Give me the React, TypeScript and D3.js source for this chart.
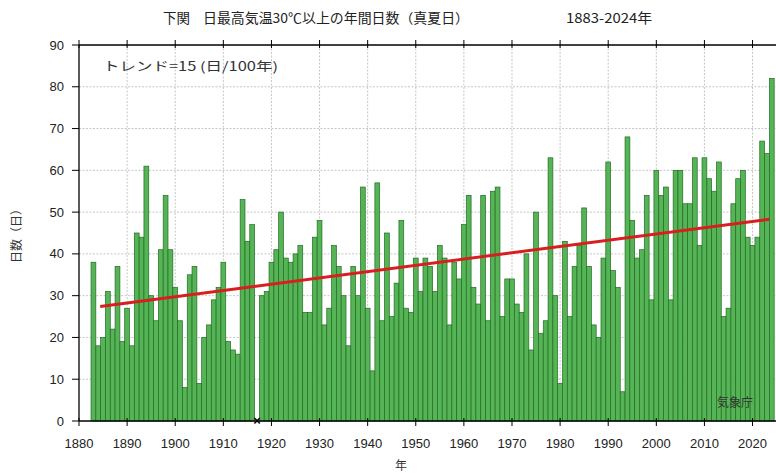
import React from "react";
import * as d3 from "d3";

const firstYear = 1883;
const lastYear = 2024;
const years: number[] = d3.range(firstYear, lastYear + 1);

const days: (number | null)[] = [
  38, 18, 20, 31, 22, 37, 19,
  27, 18, 45, 44, 61, 30, 24, 41, 54, 41,
  32, 24, 8, 35, 37, 9, 20, 23, 29, 32,
  38, 19, 17, 16, 53, 43, 47, null, 30, 31,
  38, 41, 50, 39, 38, 40, 42, 26, 26, 44,
  48, 23, 27, 42, 37, 30, 18, 37, 30, 56,
  27, 12, 57, 24, 45, 25, 33, 48, 27, 26,
  39, 31, 39, 37, 31, 42, 39, 23, 38, 34,
  47, 54, 32, 28, 54, 24, 55, 56, 25, 34,
  34, 28, 26, 40, 17, 50, 21, 24, 63, 30,
  9, 43, 25, 37, 42, 51, 37, 23, 20, 39,
  62, 36, 32, 7, 68, 48, 39, 41, 54, 29,
  60, 54, 56, 29, 60, 60, 52, 52, 63, 42,
  63, 58, 55, 62, 25, 27, 52, 58, 60, 44,
  42, 44, 67, 64, 82,
];

const xTicks: number[] = d3.range(1880, 2021, 10);
const yTicks: number[] = d3.range(0, 91, 10);

const trendYears: number[] = [1884.4, 2023.5];
const trendValues: number[] = [27.4, 48.3];

const titleLeft = "下関";
const titleMain = "日最高気温30℃以上の年間日数（真夏日）";
const titleRange = "1883-2024年";
const trendLabel = "トレンド=15 (日/100年)";
const sourceLabel = "気象庁";
const yLabel = "日数（日）";
const xLabel = "年";

const W = 776;
const H = 473;
const left = 79;
const top = 45;
const bottom = 421;
const right = 779;

export default function App() {
  const x = d3.scaleLinear().domain([1880, 2025.5]).range([left, right]);
  const y = d3.scaleLinear().domain([0, 90]).range([bottom, top]);
  const line = d3
    .line<number>()
    .x((_, i) => x(trendYears[i]))
    .y((d) => y(d));

  const cjk = "'Noto Sans CJK JP', 'Noto Sans', sans-serif";
  const num = "'Liberation Sans Narrow', 'Liberation Sans', Arial, sans-serif";
  const missing = years.filter((yr, i) => days[i] === null);

  return (
    <svg
      width={W}
      height={H}
      viewBox={`0 0 ${W} ${H}`}
      style={{ position: "absolute", left: 0, top: 0, background: "#fff" }}
    >
      <defs>
        <clipPath id="plot">
          <rect x={left} y={top - 6} width={W - left} height={bottom - top + 12} />
        </clipPath>
      </defs>
      <rect x={0} y={0} width={W} height={H} fill="#fff" />

      {/* grid */}
      <g stroke="#b8b8b8" strokeWidth={0.8}>
        {yTicks
          .filter((t) => t > 0 && t < 90)
          .map((t) => (
            <line key={"gy" + t} x1={left} x2={W} y1={y(t)} y2={y(t)} strokeDasharray="2,1.5" />
          ))}
        {xTicks
          .filter((t) => t > 1880)
          .map((t) => (
            <line key={"gx" + t} x1={x(t)} x2={x(t)} y1={top} y2={bottom} strokeDasharray="2,1.5" />
          ))}
      </g>

      {/* bars */}
      <g clipPath="url(#plot)">
        {years.map((yr, i) =>
          days[i] === null ? null : (
            <rect
              key={yr}
              x={x(yr - 0.5)}
              y={y(days[i] as number)}
              width={x(yr + 0.5) - x(yr - 0.5)}
              height={y(0) - y(days[i] as number)}
              fill="#55b455"
              stroke="#236b23"
              strokeWidth={0.7}
            />
          )
        )}
        <path
          d={line(trendValues) || ""}
          fill="none"
          stroke="#d81e1e"
          strokeWidth={3}
        />
      </g>

      {/* frame */}
      <g stroke="#000" strokeWidth={1.3}>
        <line x1={left} x2={W} y1={top} y2={top} />
        <line x1={left} x2={W} y1={bottom} y2={bottom} />
        <line x1={left} x2={left} y1={top} y2={bottom} />
      </g>

      {/* x ticks */}
      <g stroke="#000" strokeWidth={1}>
        {xTicks.map((t) => (
          <g key={"xt" + t}>
            <line x1={x(t)} x2={x(t)} y1={bottom - 3} y2={bottom + 5} />
            <line x1={x(t)} x2={x(t)} y1={top - 5} y2={top + 3} />
          </g>
        ))}
        {yTicks.map((t) => (
          <line key={"yt" + t} x1={left - 7} x2={left} y1={y(t)} y2={y(t)} />
        ))}
      </g>

      {/* missing marker */}
      {missing.map((yr) => (
        <text
          key={"m" + yr}
          x={x(yr)}
          y={y(0) + 4}
          textAnchor="middle"
          fontFamily={num}
          fontSize={13}
          fontWeight="bold"
          fill="#000"
        >
          ×
        </text>
      ))}

      {/* tick labels */}
      <g fontFamily={num} fontSize={13} fill="#222">
        {xTicks.map((t) => (
          <text key={"xl" + t} x={x(t)} y={448} textAnchor="middle">
            {t}
          </text>
        ))}
        {yTicks.map((t) => (
          <text key={"yl" + t} x={64} y={y(t) + 4.5} textAnchor="end">
            {t}
          </text>
        ))}
      </g>

      {/* titles */}
      <g fontFamily={cjk} fill="#222" fontSize={13.5}>
        <text x={163} y={23}>{titleLeft}</text>
        <text x={203} y={23} textLength={266} lengthAdjust="spacingAndGlyphs">
          {titleMain}
        </text>
        <text x={566} y={23} textLength={86} lengthAdjust="spacingAndGlyphs">
          {titleRange}
        </text>
      </g>
      <text
        x={103}
        y={71}
        fontFamily={cjk}
        fontSize={12.5}
        fill="#333"
        textLength={175}
        lengthAdjust="spacingAndGlyphs"
      >
        {trendLabel}
      </text>
      <text x={735} y={407} fontFamily={cjk} fontSize={12} fill="#333" textAnchor="middle">
        {sourceLabel}
      </text>
      <text
        transform={`translate(21, ${(top + bottom) / 2}) rotate(-90)`}
        textAnchor="middle"
        fontFamily={cjk}
        fontSize={12}
        fill="#333"
      >
        {yLabel}
      </text>
      <text x={401} y={470} textAnchor="middle" fontFamily={cjk} fontSize={12} fill="#333">
        {xLabel}
      </text>
    </svg>
  );
}
